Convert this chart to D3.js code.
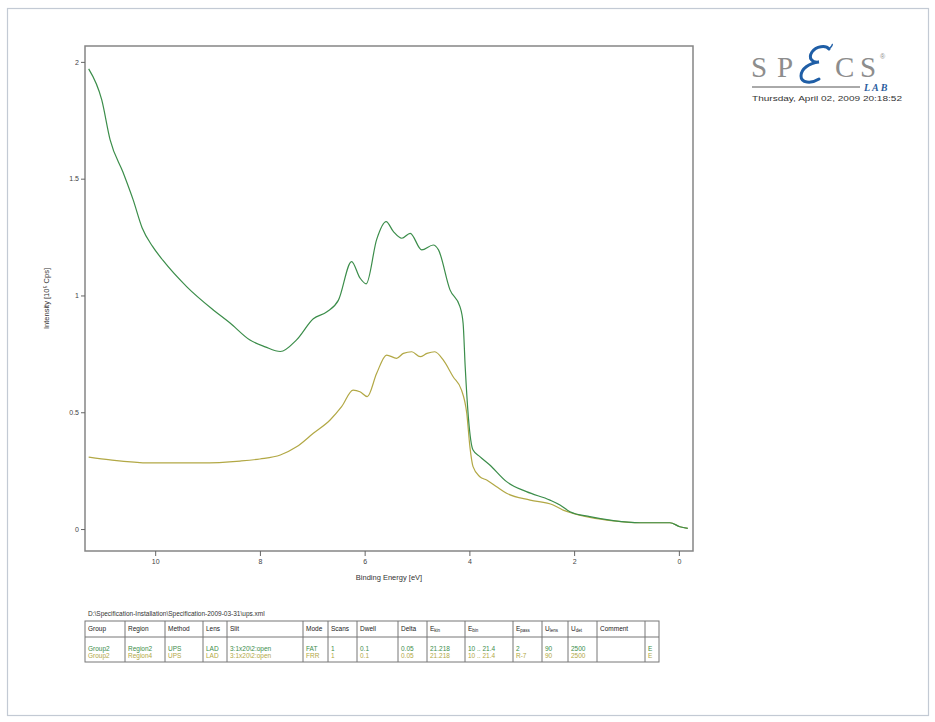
<!DOCTYPE html>
<html>
<head>
<meta charset="utf-8">
<script src="https://cdn.jsdelivr.net/npm/d3@7"></script>
<style>
  body { margin: 0; background: #fff; }
  svg { display: block; }
  text { font-family: "Liberation Sans", Arial, sans-serif; }
</style>
</head>
<body>
<svg width="935" height="722"></svg>
<script>
// spectrum of Region2 (FAT), green
var fatEnergy = [11.27, 11.02, 10.86, 10.61, 10.42, 10.25, 10.05, 9.85, 9.39, 8.89, 8.57, 8.19, 7.9, 7.61, 7.30, 6.98, 6.72, 6.50, 6.25, 6.09, 5.97, 5.77, 5.59, 5.45, 5.29, 5.13, 4.91, 4.69, 4.59, 4.37, 4.18, 4.12, 4.08, 4.02, 3.93, 3.80, 3.61, 3.29, 2.91, 2.46, 2.27, 2.08, 1.70, 1.25, 0.74, 0.17, -0.02, -0.17];
var fatIntensity = [1.97, 1.837, 1.666, 1.525, 1.409, 1.29, 1.21, 1.15, 1.036, 0.938, 0.882, 0.809, 0.78, 0.76, 0.81, 0.90, 0.93, 0.98, 1.145, 1.075, 1.05, 1.24, 1.316, 1.273, 1.245, 1.266, 1.195, 1.216, 1.195, 1.024, 0.952, 0.881, 0.695, 0.481, 0.338, 0.31, 0.274, 0.203, 0.16, 0.124, 0.103, 0.074, 0.053, 0.036, 0.027, 0.027, 0.01, 0.003];

// spectrum of Region4 (FRR), yellow
var frrEnergy = [11.27, 10.86, 10.10, 9.14, 8.38, 8.0, 7.61, 7.30, 6.98, 6.66, 6.44, 6.22, 6.09, 5.95, 5.77, 5.58, 5.39, 5.26, 5.10, 4.94, 4.81, 4.66, 4.50, 4.31, 4.15, 4.05, 3.99, 3.93, 3.80, 3.67, 3.48, 3.29, 2.84, 2.40, 2.21, 2.02, 1.70, 1.25, 0.74, 0.17, -0.02, -0.17];
var frrIntensity = [0.308, 0.296, 0.283, 0.283, 0.291, 0.30, 0.317, 0.352, 0.41, 0.467, 0.524, 0.595, 0.588, 0.567, 0.667, 0.745, 0.731, 0.752, 0.759, 0.738, 0.752, 0.759, 0.724, 0.652, 0.595, 0.495, 0.352, 0.267, 0.224, 0.21, 0.181, 0.153, 0.124, 0.103, 0.081, 0.067, 0.05, 0.035, 0.027, 0.027, 0.01, 0.003];

var xTicks = [10, 8, 6, 4, 2, 0];
var yTicks = [0, 0.5, 1, 1.5, 2];

var filePath = 'D:\\Specification-Installation\\Specification-2009-03-31\\ups.xml';
var tableHeader = ['Group', 'Region', 'Method', 'Lens', 'Slit', 'Mode', 'Scans', 'Dwell', 'Delta', 'E|kin', 'E|bin', 'E|pass', 'U|lens', 'U|det', 'Comment', ''];
var tableRow1 = ['Group2', 'Region2', 'UPS', 'LAD', '3:1x20\\2:open', 'FAT', '1', '0.1', '0.05', '21.218', '10 .. 21.4', '2', '90', '2500', '', 'E'];
var tableRow2 = ['Group2', 'Region4', 'UPS', 'LAD', '3:1x20\\2:open', 'FRR', '1', '0.1', '0.05', '21.218', '10 .. 21.4', 'R-7', '90', '2500', '', 'E'];
var colEdges = [85, 125, 165, 203, 227, 303, 328, 357, 398, 427, 465, 513, 542, 568, 597, 645, 659];

var green = '#3b8d4a',
  yellow = '#b2a845';

var svg = d3.select('svg');

// page frame
svg
  .append('rect')
  .attr('x', 7.5)
  .attr('y', 8.5)
  .attr('width', 921)
  .attr('height', 707)
  .style('fill', 'none')
  .style('stroke', '#c3cad4')
  .style('stroke-width', 1.2);

var x = d3.scaleLinear().domain([11.34, -0.27]).range([85, 693]);
var y = d3.scaleLinear().domain([-0.094, 2.068]).range([551, 46]);

// plot box
svg
  .append('rect')
  .attr('x', x.range()[0])
  .attr('y', y.range()[1])
  .attr('width', x.range()[1] - x.range()[0])
  .attr('height', y.range()[0] - y.range()[1])
  .style('fill', 'none')
  .style('stroke', '#858585')
  .style('stroke-width', 1.5);

var xAxis = svg
  .append('g')
  .attr('transform', 'translate(0,' + y.range()[0] + ')')
  .call(
    d3
      .axisBottom(x)
      .tickValues(xTicks)
      .tickSize(5)
      .tickPadding(3)
      .tickFormat(d3.format('d'))
  );

var yAxis = svg
  .append('g')
  .attr('transform', 'translate(' + x.range()[0] + ',0)')
  .call(
    d3
      .axisLeft(y)
      .tickValues(yTicks)
      .tickSize(4)
      .tickPadding(2)
      .tickFormat(function(d) {
        return String(d);
      })
  );

[xAxis, yAxis].forEach(function(g) {
  g.select('.domain').remove();
  g.selectAll('line').style('stroke', '#666');
  g.selectAll('text')
    .style('font-size', '7px')
    .style('fill', '#444')
    .style('font-family', '"Liberation Sans", Arial, sans-serif');
});

svg
  .append('text')
  .attr('x', (x.range()[0] + x.range()[1]) / 2)
  .attr('y', 580)
  .attr('text-anchor', 'middle')
  .style('font-size', '7.5px')
  .style('fill', '#333')
  .text('Binding Energy [eV]');

svg
  .append('text')
  .attr('transform', 'translate(49,' + (y.range()[0] + y.range()[1]) / 2 + ') rotate(-90)')
  .attr('text-anchor', 'middle')
  .style('font-size', '7.5px')
  .style('fill', '#333')
  .text('Intensity [10⁵ Cps]');

var line = d3
  .line()
  .x(function(d) {
    return x(d[0]);
  })
  .y(function(d) {
    return y(d[1]);
  })
  .curve(d3.curveMonotoneX);

svg
  .append('path')
  .datum(d3.zip(frrEnergy, frrIntensity))
  .attr('d', line)
  .style('fill', 'none')
  .style('stroke', yellow)
  .style('stroke-width', 1.2);

svg
  .append('path')
  .datum(d3.zip(fatEnergy, fatIntensity))
  .attr('d', line)
  .style('fill', 'none')
  .style('stroke', green)
  .style('stroke-width', 1.2);

// logo
var logo = svg.append('g');
var logoLetters = [['S', 751], ['P', 777], ['C', 835], ['S', 860]];
logo
  .selectAll('text.letter')
  .data(logoLetters)
  .enter()
  .append('text')
  .attr('class', 'letter')
  .attr('x', function(d) {
    return d[1];
  })
  .attr('y', 77)
  .style('font-family', '"Liberation Serif", "DejaVu Serif", serif')
  .style('font-size', '29px')
  .style('fill', '#8d8d8d')
  .text(function(d) {
    return d[0];
  });
logo
  .append('text')
  .attr('x', 880)
  .attr('y', 59)
  .style('font-size', '7px')
  .style('fill', '#8d8d8d')
  .text('®');
logo
  .append('path')
  .attr('d', 'M829,49 C826,45 816,46 812,52 C808,58 812,63 819,62 C809,63 801,69 801,76 C801,83 811,84 819,79')
  .style('fill', 'none')
  .style('stroke', '#1f5ea6')
  .style('stroke-width', 3)
  .style('stroke-linecap', 'round');
logo
  .append('path')
  .attr('d', 'M829,49 C831,47 833,45 832,44')
  .style('fill', 'none')
  .style('stroke', '#1f5ea6')
  .style('stroke-width', 1.5);
logo
  .append('line')
  .attr('x1', 752)
  .attr('x2', 860)
  .attr('y1', 87)
  .attr('y2', 87)
  .style('stroke', '#555')
  .style('stroke-width', 1);
logo
  .append('text')
  .attr('x', 864)
  .attr('y', 91)
  .style('font-family', '"Liberation Serif", "DejaVu Serif", serif')
  .style('font-style', 'italic')
  .style('font-weight', 'bold')
  .style('letter-spacing', '2px')
  .style('font-size', '10px')
  .style('fill', '#2a5d9e')
  .text('LAB');
logo
  .append('text')
  .attr('x', 752)
  .attr('y', 101)
  .attr('textLength', 150)
  .attr('lengthAdjust', 'spacingAndGlyphs')
  .style('font-size', '7px')
  .style('fill', '#333')
  .text('Thursday, April 02, 2009 20:18:52');

// table of regions
svg
  .append('text')
  .attr('x', 88)
  .attr('y', 615.5)
  .style('font-size', '6.5px')
  .style('fill', '#333')
  .text(filePath);

var table = svg.append('g').style('font-size', '6.5px');
var tTop = 621,
  tHead = 637,
  tBottom = 662;

table
  .append('rect')
  .attr('x', colEdges[0])
  .attr('y', tTop)
  .attr('width', colEdges[colEdges.length - 1] - colEdges[0])
  .attr('height', tBottom - tTop)
  .style('fill', 'none')
  .style('stroke', '#777');
table
  .append('line')
  .attr('x1', colEdges[0])
  .attr('x2', colEdges[colEdges.length - 1])
  .attr('y1', tHead)
  .attr('y2', tHead)
  .style('stroke', '#777');
table
  .selectAll('line.col')
  .data(colEdges.slice(1, -1))
  .enter()
  .append('line')
  .attr('class', 'col')
  .attr('x1', function(d) {
    return d;
  })
  .attr('x2', function(d) {
    return d;
  })
  .attr('y1', tTop)
  .attr('y2', tBottom)
  .style('stroke', '#777');

var head = table
  .selectAll('text.head')
  .data(tableHeader)
  .enter()
  .append('text')
  .attr('class', 'head')
  .attr('x', function(d, i) {
    return colEdges[i] + 3;
  })
  .attr('y', 630.5)
  .style('fill', '#222');
head.each(function(d) {
  var parts = d.split('|');
  var t = d3.select(this);
  t.append('tspan').text(parts[0]);
  if (parts[1]) {
    t.append('tspan')
      .attr('dy', 1.5)
      .style('font-size', '4.5px')
      .text(parts[1]);
  }
});

[[tableRow1, green, 650.5], [tableRow2, yellow, 658]].forEach(function(r) {
  table
    .selectAll(null)
    .data(r[0])
    .enter()
    .append('text')
    .attr('x', function(d, i) {
      return colEdges[i] + 3;
    })
    .attr('y', r[2])
    .style('fill', r[1])
    .text(function(d) {
      return d;
    });
});
</script>
</body>
</html>
